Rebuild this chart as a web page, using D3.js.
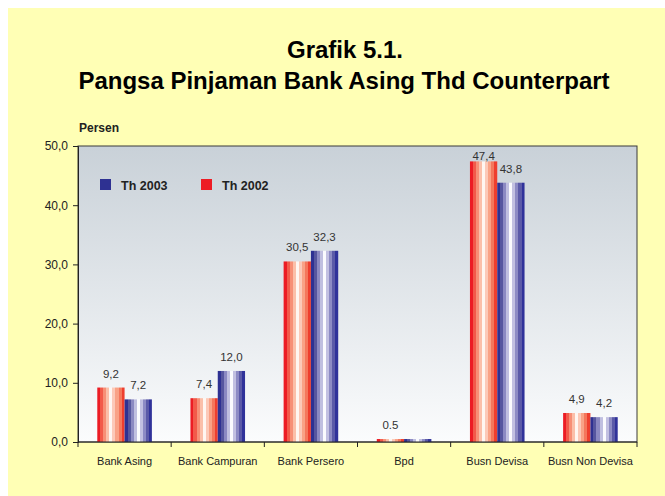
<!DOCTYPE html>
<html>
<head>
<meta charset="utf-8">
<script src="https://cdn.jsdelivr.net/npm/d3@7/dist/d3.min.js"></script>
<style>
  html, body { margin: 0; padding: 0; background: #ffffff; }
  svg { display: block; font-family: "Liberation Sans", Arial, sans-serif; }
</style>
</head>
<body>
<svg id="chart" width="665" height="496"></svg>
<script>
// Pangsa pinjaman bank asing terhadap counterpart (persen)
const categories = ["Bank Asing", "Bank Campuran", "Bank Persero", "Bpd", "Busn Devisa", "Busn Non Devisa"];
const seriesNames = ["Th 2002", "Th 2003"];
const values2002 = [9.2, 7.4, 30.5, 0.5, 47.4, 4.9];
const values2003 = [7.2, 12.0, 32.3, 0.5, 43.8, 4.2];
const labels2002 = ["9,2", "7,4", "30,5", "0.5", "47,4", "4,9"];
const labels2003 = ["7,2", "12,0", "32,3", "", "43,8", "4,2"];
const yTicks = [0, 10, 20, 30, 40, 50];
const legendOrder = ["Th 2003", "Th 2002"];

const svg = d3.select("#chart");
const W = 665, H = 496;

// page background
svg.append("rect").attr("x", 8).attr("y", 8).attr("width", W - 8).attr("height", H - 8).attr("fill", "#ffffb5");

const plot = { left: 78, top: 146, right: 637, bottom: 442 };

const defs = svg.append("defs");
const bg = defs.append("linearGradient").attr("id", "plotBg").attr("x1", 0).attr("y1", 0).attr("x2", 0).attr("y2", 1);
bg.append("stop").attr("offset", "0%").attr("stop-color", "#c9d1d8");
bg.append("stop").attr("offset", "100%").attr("stop-color", "#fbfcfd");

// banded cylinder shading for bars
function banded(id, colors) {
  const g = defs.append("linearGradient").attr("id", id).attr("x1", 0).attr("y1", 0).attr("x2", 1).attr("y2", 0);
  const n = colors.length;
  colors.forEach((c, i) => {
    g.append("stop").attr("offset", (i / n * 100) + "%").attr("stop-color", c);
    g.append("stop").attr("offset", ((i + 1) / n * 100) + "%").attr("stop-color", c);
  });
}
banded("gradRed", ["#ec1c24", "#f25a4a", "#f78f76", "#fbbfa9", "#fff6f1", "#fcc9b8", "#f9a286", "#f4775c", "#ee3e2e"]);
banded("gradBlue", ["#2e3192", "#56569f", "#8b89c2", "#c0bfe0", "#fbfbfe", "#c2c0e1", "#8d8bc4", "#5b5aa8", "#30329a"]);

const x0 = d3.scaleBand().domain(categories).range([plot.left, plot.right]).paddingInner(0).paddingOuter(0);
const innerW = x0.bandwidth() * 0.586;
const x1 = d3.scaleBand().domain(seriesNames).range([0, innerW]).padding(0);
const y = d3.scaleLinear().domain([0, 50]).range([plot.bottom, plot.top]);

svg.append("rect")
  .attr("x", plot.left).attr("y", plot.top)
  .attr("width", plot.right - plot.left).attr("height", plot.bottom - plot.top)
  .attr("fill", "url(#plotBg)").attr("stroke", "#3a3a3a").attr("stroke-width", 1);

const series = [
  { name: "Th 2002", values: values2002, labels: labels2002, fill: "url(#gradRed)" },
  { name: "Th 2003", values: values2003, labels: labels2003, fill: "url(#gradBlue)" }
];

const groups = svg.append("g").selectAll("g").data(categories).join("g")
  .attr("transform", d => `translate(${x0(d) + (x0.bandwidth() - innerW) / 2},0)`);

groups.each(function (cat, ci) {
  const g = d3.select(this);
  series.forEach(s => {
    const v = s.values[ci];
    g.append("rect")
      .attr("x", x1(s.name)).attr("y", y(v))
      .attr("width", x1.bandwidth()).attr("height", y(0) - y(v))
      .attr("fill", s.fill);
    if (s.labels[ci]) {
      g.append("text")
        .attr("x", x1(s.name) + x1.bandwidth() / 2)
        .attr("y", Math.max(y(v) - 10, plot.top + 14))
        .attr("text-anchor", "middle")
        .attr("font-size", 11.5).attr("fill", "#333")
        .text(s.labels[ci]);
    }
  });
});

// y axis
const yAxis = svg.append("g").attr("transform", `translate(${plot.left},0)`)
  .call(d3.axisLeft(y).tickValues(yTicks).tickSize(5).tickPadding(5).tickFormat(d => d3.format(".1f")(d).replace(".", ",")));
yAxis.select(".domain").attr("stroke", "#222");
yAxis.selectAll(".tick line").attr("stroke", "#222");
yAxis.selectAll("text").attr("font-size", 12).attr("fill", "#222").attr("font-family", "Liberation Sans, Arial, sans-serif");

// x axis: tick marks at category boundaries, labels centered
const xg = svg.append("g");
xg.append("line").attr("x1", plot.left).attr("x2", plot.right).attr("y1", plot.bottom).attr("y2", plot.bottom).attr("stroke", "#222");
const bounds = categories.map(c => x0(c)).concat([plot.right]);
xg.selectAll("line.tk").data(bounds).join("line").attr("class", "tk")
  .attr("x1", d => d).attr("x2", d => d).attr("y1", plot.bottom).attr("y2", plot.bottom + 5).attr("stroke", "#222");
xg.selectAll("text").data(categories).join("text")
  .attr("x", d => x0(d) + x0.bandwidth() / 2).attr("y", 465)
  .attr("text-anchor", "middle").attr("font-size", 11).attr("fill", "#222")
  .text(d => d);

// title
svg.append("text").attr("x", 345).attr("y", 58).attr("text-anchor", "middle")
  .attr("font-size", 24).attr("font-weight", "bold").attr("fill", "#000").text("Grafik 5.1.");
svg.append("text").attr("x", 344).attr("y", 89).attr("text-anchor", "middle")
  .attr("font-size", 24).attr("font-weight", "bold").attr("fill", "#000").text("Pangsa Pinjaman Bank Asing Thd Counterpart");

svg.append("text").attr("x", 79).attr("y", 132).attr("font-size", 12).attr("font-weight", "bold").attr("fill", "#222").text("Persen");

// legend
const legendColors = { "Th 2003": "#2e3192", "Th 2002": "#ed1c24" };
const lg = svg.append("g").selectAll("g").data(legendOrder).join("g")
  .attr("transform", (d, i) => `translate(${100 + i * 101},179)`);
lg.append("rect").attr("width", 11).attr("height", 11).attr("fill", d => legendColors[d]);
lg.append("text").attr("x", 21).attr("y", 10.5).attr("font-size", 12.5).attr("font-weight", "bold").attr("fill", "#222").text(d => d);
</script>
</body>
</html>
